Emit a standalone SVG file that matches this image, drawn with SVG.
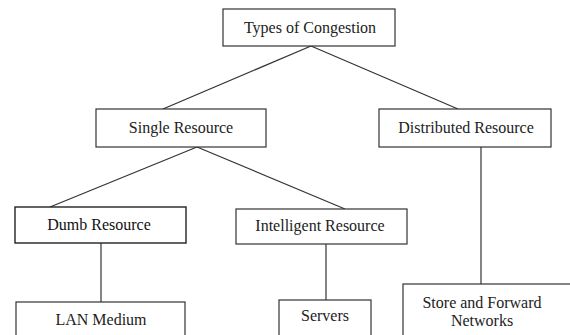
<svg xmlns="http://www.w3.org/2000/svg" width="570" height="335" viewBox="0 0 570 335">
<style>
.box{fill:#fff;stroke:#333;stroke-width:1.2}
.lbl{font-family:"Liberation Serif","Times New Roman",serif;font-size:16px;fill:#222;text-anchor:middle}
.con{stroke:#333;stroke-width:1.2;fill:none}
</style>
<rect width="570" height="335" fill="#fff"/>
<g id="connectors">
<line class="con" x1="311" y1="46" x2="163" y2="109"/>
<line class="con" x1="311" y1="46" x2="458" y2="109"/>
<line class="con" x1="197" y1="147" x2="50" y2="207"/>
<line class="con" x1="197" y1="147" x2="345" y2="209"/>
<line class="con" x1="101" y1="243" x2="101" y2="302"/>
<line class="con" x1="326" y1="244" x2="326" y2="300"/>
<line class="con" x1="481" y1="147" x2="481" y2="284"/>
</g>
<g id="types">
<rect class="box" x="223" y="9" width="172" height="37"/>
<text class="lbl" x="310" y="33">Types of Congestion</text>
</g>
<g id="single">
<rect class="box" x="96" y="109" width="170" height="38"/>
<text class="lbl" x="181" y="133">Single Resource</text>
</g>
<g id="distributed">
<rect class="box" x="379" y="109" width="172" height="38"/>
<text class="lbl" x="466" y="133">Distributed Resource</text>
</g>
<g id="dumb">
<rect class="box" x="15" y="207" width="171" height="36" style="stroke:#222;stroke-width:1.4"/>
<text class="lbl" x="99" y="230" style="fill:#111">Dumb Resource</text>
</g>
<g id="intelligent">
<rect class="box" x="236" y="209" width="171" height="35"/>
<text class="lbl" x="320" y="231">Intelligent Resource</text>
</g>
<g id="lan">
<rect class="box" x="16" y="302" width="169" height="40"/>
<text class="lbl" x="101" y="325">LAN Medium</text>
</g>
<g id="servers">
<rect class="box" x="279" y="300" width="92" height="42"/>
<text class="lbl" x="325" y="321">Servers</text>
</g>
<g id="store">
<rect class="box" x="403" y="284" width="172" height="58"/>
<text class="lbl" x="482" y="308">Store and Forward</text>
<text class="lbl" x="482" y="326">Networks</text>
</g>
</svg>
